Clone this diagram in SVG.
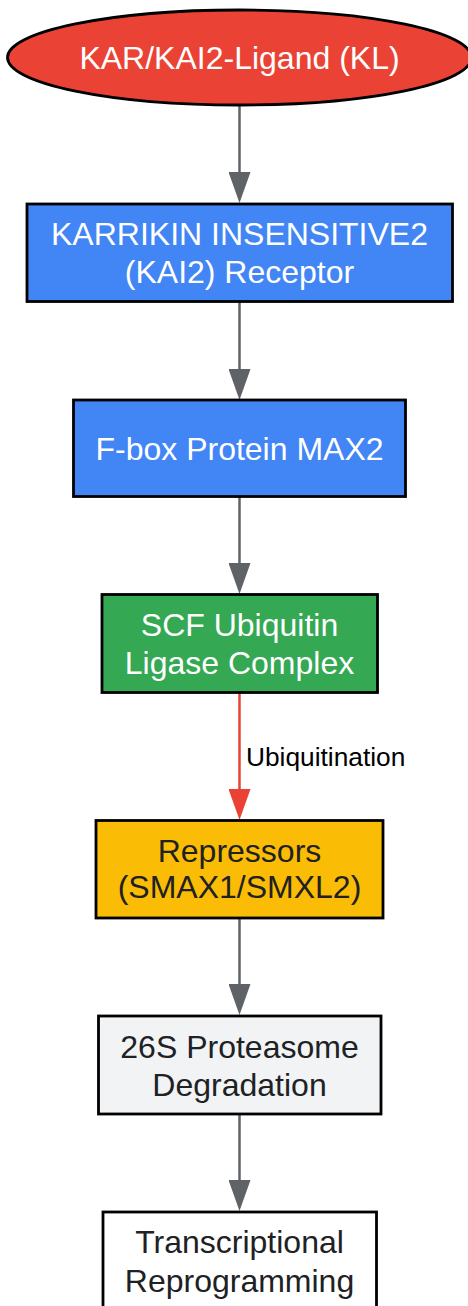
<svg xmlns="http://www.w3.org/2000/svg" width="468" height="1306" viewBox="0 0 468 1306">
<style>
.n{stroke:#000;stroke-width:2.8}
.t{font-family:"Liberation Sans",Arial,sans-serif;font-size:32px;text-anchor:middle}
.w{fill:#fff}
.d{fill:#202124}
.e{fill:none;stroke-width:2.5}
.g{stroke:#5F6368}
.r{stroke:#EA4335}
.lbl{font-family:"Liberation Sans",Arial,sans-serif;font-size:26.3px;fill:#000}
</style>
<defs>
<marker id="ag" markerUnits="userSpaceOnUse" viewBox="0 0 31 22" markerWidth="31" markerHeight="22" refX="0" refY="11" orient="auto"><path d="M0,0 L31,11 L0,22 z" fill="#5F6368"/></marker>
<marker id="ar" markerUnits="userSpaceOnUse" viewBox="0 0 31 22" markerWidth="31" markerHeight="22" refX="0" refY="11" orient="auto"><path d="M0,0 L31,11 L0,22 z" fill="#EA4335"/></marker>
</defs>
<g id="connectors">
<line class="e g" x1="239.5" y1="105" x2="239.5" y2="172" marker-end="url(#ag)"/>
<line class="e g" x1="239.5" y1="302" x2="239.5" y2="369" marker-end="url(#ag)"/>
<line class="e g" x1="239.5" y1="497" x2="239.5" y2="563" marker-end="url(#ag)"/>
<line class="e r" x1="239.5" y1="693" x2="239.5" y2="789" marker-end="url(#ar)"/>
<text class="lbl" x="246" y="766">Ubiquitination</text>
<line class="e g" x1="239.5" y1="918" x2="239.5" y2="984" marker-end="url(#ag)"/>
<line class="e g" x1="239.5" y1="1114" x2="239.5" y2="1180" marker-end="url(#ag)"/>
</g>
<g id="ligand">
<ellipse class="n" cx="239.5" cy="57.5" rx="232" ry="47.5" fill="#EA4335"/>
<text class="t w" x="239.5" y="69">KAR/KAI2-Ligand (KL)</text>
</g>
<g id="kai2">
<rect class="n" x="27" y="204" width="425.5" height="97.5" fill="#4285F4"/>
<text class="t w" x="239.5" y="245">KARRIKIN INSENSITIVE2</text>
<text class="t w" x="239.5" y="283">(KAI2) Receptor</text>
</g>
<g id="max2">
<rect class="n" x="73.5" y="400" width="332" height="96.5" fill="#4285F4"/>
<text class="t w" x="239.5" y="460">F-box Protein MAX2</text>
</g>
<g id="scf">
<rect class="n" x="102" y="594.5" width="275.5" height="98" fill="#34A853"/>
<text class="t w" x="239.5" y="636">SCF Ubiquitin</text>
<text class="t w" x="239.5" y="674">Ligase Complex</text>
</g>
<g id="repressors">
<rect class="n" x="96" y="820.5" width="287" height="97.5" fill="#FBBC05"/>
<text class="t d" x="239.5" y="862">Repressors</text>
<text class="t d" x="239.5" y="898">(SMAX1/SMXL2)</text>
</g>
<g id="proteasome">
<rect class="n" x="98.5" y="1016" width="282.5" height="98" fill="#F1F3F4"/>
<text class="t d" x="239.5" y="1058">26S Proteasome</text>
<text class="t d" x="239.5" y="1096">Degradation</text>
</g>
<g id="transcription">
<rect class="n" x="103" y="1212" width="273.5" height="98" fill="#FFFFFF"/>
<text class="t d" x="239.5" y="1253">Transcriptional</text>
<text class="t d" x="239.5" y="1292">Reprogramming</text>
</g>
</svg>
